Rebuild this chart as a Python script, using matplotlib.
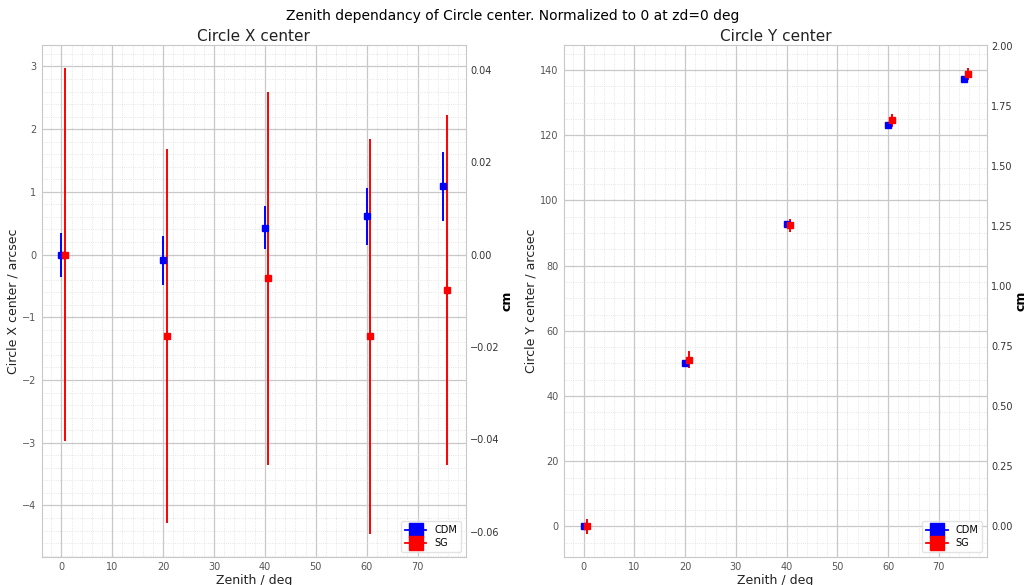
import numpy as np
import matplotlib
matplotlib.use("Agg")
import matplotlib.pyplot as plt
from matplotlib.ticker import AutoMinorLocator
from matplotlib.lines import Line2D

zd_cdm = [0, 20, 40, 60, 75]
zd_sg = [0.7, 20.7, 40.7, 60.7, 75.7]

x_cdm = [0.0, -0.09, 0.43, 0.61, 1.09]
x_cdm_err = [0.35, 0.39, 0.34, 0.45, 0.55]
x_sg = [0.0, -1.30, -0.38, -1.30, -0.57]
x_sg_err = [2.97, 2.98, 2.98, 3.15, 2.79]

y_cdm = [0.0, 50.0, 92.7, 123.0, 137.2]
y_cdm_err = [0.4, 0.5, 0.4, 0.4, 0.4]
y_sg = [0.0, 51.2, 92.3, 124.5, 138.7]
y_sg_err = [2.2, 2.7, 1.9, 2.0, 1.8]

cm_per_arcsec = 1 / 73.6

grey = '#555555'


def panel(ax, xc, xce, xs, xse, title, ylab, cm_ticks=None):
    ax.set_facecolor('white')
    ax.errorbar(zd_cdm, xc, yerr=xce, fmt='s', color='blue', ms=5, elinewidth=1.4, label='CDM')
    ax.errorbar(zd_sg, xs, yerr=xse, fmt='s', color='red', ms=5, elinewidth=1.4, label='SG')
    ax.xaxis.set_minor_locator(AutoMinorLocator())
    ax.yaxis.set_minor_locator(AutoMinorLocator())
    ax.grid(True, which='major', color='#c8c8c8', lw=0.9)
    ax.grid(True, which='minor', color='#dddddd', lw=0.6, ls=':')
    ax.set_axisbelow(True)
    for s in ax.spines.values():
        s.set_color('#c8c8c8')
    ax.tick_params(which='both', length=0, labelsize=7, colors=grey, pad=4)
    ax.set_title(title, fontsize=11, color='#222222', pad=3)
    ax.set_xlabel('Zenith / deg', fontsize=9, color='#222222', labelpad=1)
    ax.set_ylabel(ylab, fontsize=9, color='#222222', labelpad=2)
    handles = [Line2D([], [], color='blue', marker='s', ms=10, lw=1.3),
               Line2D([], [], color='red', marker='s', ms=10, lw=1.3)]
    leg = ax.legend(handles, ['CDM', 'SG'], loc='lower right', fontsize=7,
                    frameon=True, handlelength=2.2, borderpad=0.4, labelspacing=0.3)
    leg.get_frame().set_edgecolor('#dddddd')
    tw = ax.twinx()
    if cm_ticks is not None:
        tw.set_yticks(cm_ticks)
    lo, hi = ax.get_ylim()
    tw.set_ylim(lo * cm_per_arcsec, hi * cm_per_arcsec)
    tw.tick_params(length=0, labelsize=7, colors='#333333', pad=3)
    tw.set_ylabel('cm', fontsize=9, fontweight='bold', labelpad=1)
    for s in tw.spines.values():
        s.set_visible(False)
    return tw


fig = plt.figure(figsize=(10.26, 5.85), dpi=100)
ax1 = fig.add_axes([0.041, 0.048, 0.413, 0.875])
ax2 = fig.add_axes([0.550, 0.048, 0.412, 0.875])

panel(ax1, x_cdm, x_cdm_err, x_sg, x_sg_err, 'Circle X center', 'Circle X center / arcsec')
panel(ax2, y_cdm, y_cdm_err, y_sg, y_sg_err, 'Circle Y center', 'Circle Y center / arcsec',
      cm_ticks=[0, 0.25, 0.5, 0.75, 1.0, 1.25, 1.5, 1.75, 2.0])

fig.suptitle('Zenith dependancy of Circle center. Normalized to 0 at zd=0 deg', fontsize=10, y=0.985)
fig.savefig('out.png', dpi=100, facecolor='white')
